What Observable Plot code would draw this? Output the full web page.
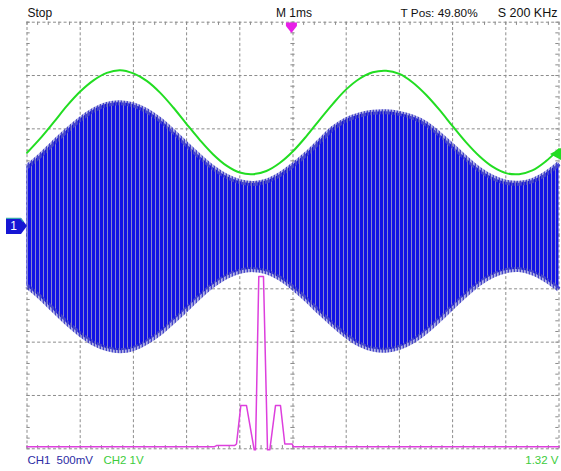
<!DOCTYPE html>
<html><head><meta charset="utf-8">
<script src="https://cdn.jsdelivr.net/npm/d3@7"></script>
<script src="https://cdn.jsdelivr.net/npm/@observablehq/plot@0.6"></script>
<style>body{margin:0;background:#fff} #chart svg{display:block}</style>
</head><body><div id="chart"></div>
<script>
// time axis (ms, 1 ms/div), vertical in screen divisions
const times = [-5,-4.75,-4.5,-4.25,-4,-3.75,-3.5,-3.25,-3,-2.75,-2.5,-2.25,-2,-1.75,-1.5,-1.25,-1,-0.75,-0.5,-0.25,0,0.25,0.5,0.75,1,1.25,1.5,1.75,2,2.25,2.5,2.75,3,3.25,3.5,3.75,4,4.25,4.5,4.75,5];
// CH2 (green sine), divisions
const ch2 = [1.55,1.82,2.12,2.43,2.70,2.91,3.05,3.10,3.04,2.90,2.68,2.40,2.09,1.79,1.52,1.31,1.18,1.15,1.21,1.36,1.58,1.86,2.17,2.47,2.74,2.94,3.06,3.09,3.03,2.87,2.64,2.36,2.05,1.75,1.49,1.29,1.17,1.15,1.22,1.39,1.62];
// CH1 (blue AM carrier) envelope, divisions
const ch1Upper = [1.29,1.50,1.74,1.97,2.18,2.35,2.46,2.49,2.45,2.34,2.17,1.95,1.71,1.48,1.27,1.11,1.01,0.975,1.02,1.14,1.32,1.53,1.77,2.01,2.17,2.26,2.31,2.32,2.29,2.22,2.10,1.90,1.68,1.45,1.24,1.09,1.00,0.98,1.03,1.16,1.35];
const ch1Lower = [-0.95,-1.16,-1.40,-1.64,-1.85,-2.02,-2.12,-2.16,-2.12,-2.00,-1.83,-1.61,-1.38,-1.14,-0.93,-0.77,-0.67,-0.64,-0.68,-0.80,-0.98,-1.20,-1.44,-1.67,-1.88,-2.04,-2.13,-2.15,-2.10,-1.98,-1.80,-1.58,-1.34,-1.11,-0.90,-0.75,-0.66,-0.64,-0.70,-0.83,-1.01];
// math (magenta spectrum) trace
const mathT = [-5,-1.476,-1.438,-1.10,-1.062,-0.981,-0.874,-0.729,-0.705,-0.643,-0.555,-0.479,-0.436,-0.329,-0.235,-0.154,-0.015,0.004,5];
const mathV = [-3.96,-3.96,-3.94,-3.94,-3.91,-3.19,-3.19,-4.02,-4.02,-0.77,-0.77,-4.02,-4.02,-3.19,-3.19,-3.91,-3.91,-3.96,-3.96];
const gridX = [-5,-4,-3,-2,-1,0,1,2,3,4,5];
const gridY = [-4,-3,-2,-1,0,1,2,3,4];
const topLabels = ["Stop","M 1ms","T Pos: 49.80%","S 200 KHz"];
const bottomLabels = ["CH1","500mV","CH2","1V","1.32 V"];
const ch1Offset = 0.17, ch2Offset = 0.20, trigLevel = 1.32, trigPos = -0.02;

const traces = times.map((t,i)=>({t, ch2: ch2[i], up: ch1Upper[i], lo: ch1Lower[i]}));
const mathRows = mathT.map((t,i)=>({t, v: mathV[i]}));
const minorX = d3.range(0,51).map(i=>-5+i*0.2);
const minorY = d3.range(0,41).map(i=>-4+i*0.2);
const G = "#8c8c8c", DASH = "3,2.3";
const font = "'Liberation Sans',Arial,sans-serif";
const tk = 0.06;

const defs = () => {
  const g = d3.create("svg:defs");
  const p = g.append("pattern").attr("id","ch1stripes").attr("patternUnits","userSpaceOnUse").attr("width",4).attr("height",8);
  p.append("rect").attr("width",4).attr("height",8).attr("fill","#1212e6");
  p.append("rect").attr("x",3).attr("width",1).attr("height",8).attr("fill","#8686cc");
  const q = g.append("pattern").attr("id","ch1fringe").attr("patternUnits","userSpaceOnUse").attr("width",3).attr("height",8);
  q.append("rect").attr("x",0).attr("width",1).attr("height",8).attr("fill","#1c1cc8");
  q.append("rect").attr("x",1).attr("width",1).attr("height",8).attr("fill","#6c6cc4");
  return g.node();
};

const markers = (index, scales) => {
  const g = d3.create("svg:g");
  const y1 = scales.y(ch1Offset);
  g.append("path").attr("d",`M6,${y1-8}H21L27,${y1}L21,${y1+8}H6Z`).attr("fill","#1616d4");
  g.append("path").attr("d",`M6,${y1-7.5}H20.5L23.5,${y1-4}`).attr("fill","none").attr("stroke","#3aa8b0").attr("stroke-width",1.2);
  g.append("text").attr("x",13.5).attr("y",y1+4.5).attr("text-anchor","middle").attr("fill","#fff").attr("font-size",12).attr("font-family",font).text("1");
  const xt = scales.x(trigPos);
  g.append("path").attr("d",`M${xt-5.5},22.5H${xt+5.5}V26L${xt},33L${xt-5.5},26Z`).attr("fill","#e81ee8");
  const yl = scales.y(ch2Offset + trigLevel);
  g.append("path").attr("d",`M550,${yl}L561,${yl-6}V${yl+6}Z`).attr("fill","#22dd22");
  return g.node();
};

const txt = (s, anchor, dx, dy, ta, fill, fs) => Plot.text([s], {frameAnchor: anchor, dx, dy, textAnchor: ta, lineAnchor: "bottom", fill, fontSize: fs, fontFamily: font});

const chart = Plot.plot({
  width: 561, height: 471,
  marginLeft: 26.5, marginRight: 2.5, marginTop: 21.7, marginBottom: 22.7,
  x: {domain: [-5,5], axis: null},
  y: {domain: [-4,4], axis: null},
  style: {background: "#fff"},
  marks: [
    defs,
    Plot.ruleX(gridX, {stroke: G, strokeDasharray: DASH}),
    Plot.ruleY(gridY, {stroke: G, strokeDasharray: DASH}),
    Plot.ruleX(minorX, {x: d=>d, y1: 4, y2: 4-tk, stroke: G}),
    Plot.ruleX(minorX, {x: d=>d, y1: -4, y2: -4+tk, stroke: G}),
    Plot.ruleX(minorX, {x: d=>d, y1: -0.04, y2: 0.04, stroke: G}),
    Plot.ruleY(minorY, {y: d=>d, x1: -5, x2: -5+tk, stroke: G}),
    Plot.ruleY(minorY, {y: d=>d, x1: 5, x2: 5-tk, stroke: G}),
    Plot.ruleY(minorY, {y: d=>d, x1: -0.04, x2: 0.04, stroke: G}),
    Plot.areaY(traces, {x: "t", y1: "lo", y2: "up", fill: "url(#ch1stripes)", curve: "catmull-rom"}),
    Plot.line(traces, {x: "t", y: "up", stroke: "url(#ch1fringe)", strokeWidth: 5, strokeLinecap: "butt", curve: "catmull-rom"}),
    Plot.line(traces, {x: "t", y: "lo", stroke: "url(#ch1fringe)", strokeWidth: 5, strokeLinecap: "butt", curve: "catmull-rom"}),
    Plot.line(traces, {x: "t", y: "ch2", stroke: "#22dd22", strokeWidth: 2, curve: "catmull-rom"}),
    Plot.line(mathRows, {x: "t", y: "v", stroke: "#dd3fdd", strokeWidth: 1.5}),
    markers,
    txt(topLabels[0], "top-left", 0.5, -5.7, "start", "#111", 12),
    txt(topLabels[1], "top", 1, -5.7, "middle", "#111", 12),
    txt(topLabels[2], "top-left", 373.5, -5.7, "start", "#111", 11.8),
    txt(topLabels[3], "top-right", -1.5, -5.7, "end", "#111", 12.5),
    txt(bottomLabels[0], "bottom-left", 0.5, 14.7, "start", "#2c2ca4", 11.5),
    txt(bottomLabels[1], "bottom-left", 29.5, 14.7, "start", "#2c2ca4", 11.5),
    txt(bottomLabels[2], "bottom-left", 76.5, 14.7, "start", "#3ccc3c", 11.5),
    txt(bottomLabels[3], "bottom-left", 102.5, 14.7, "start", "#3ccc3c", 11.5),
    txt(bottomLabels[4], "bottom-right", -0.5, 14.7, "end", "#3ccc3c", 11.5)
  ]
});
document.getElementById("chart").appendChild(chart);
</script>
</body></html>
